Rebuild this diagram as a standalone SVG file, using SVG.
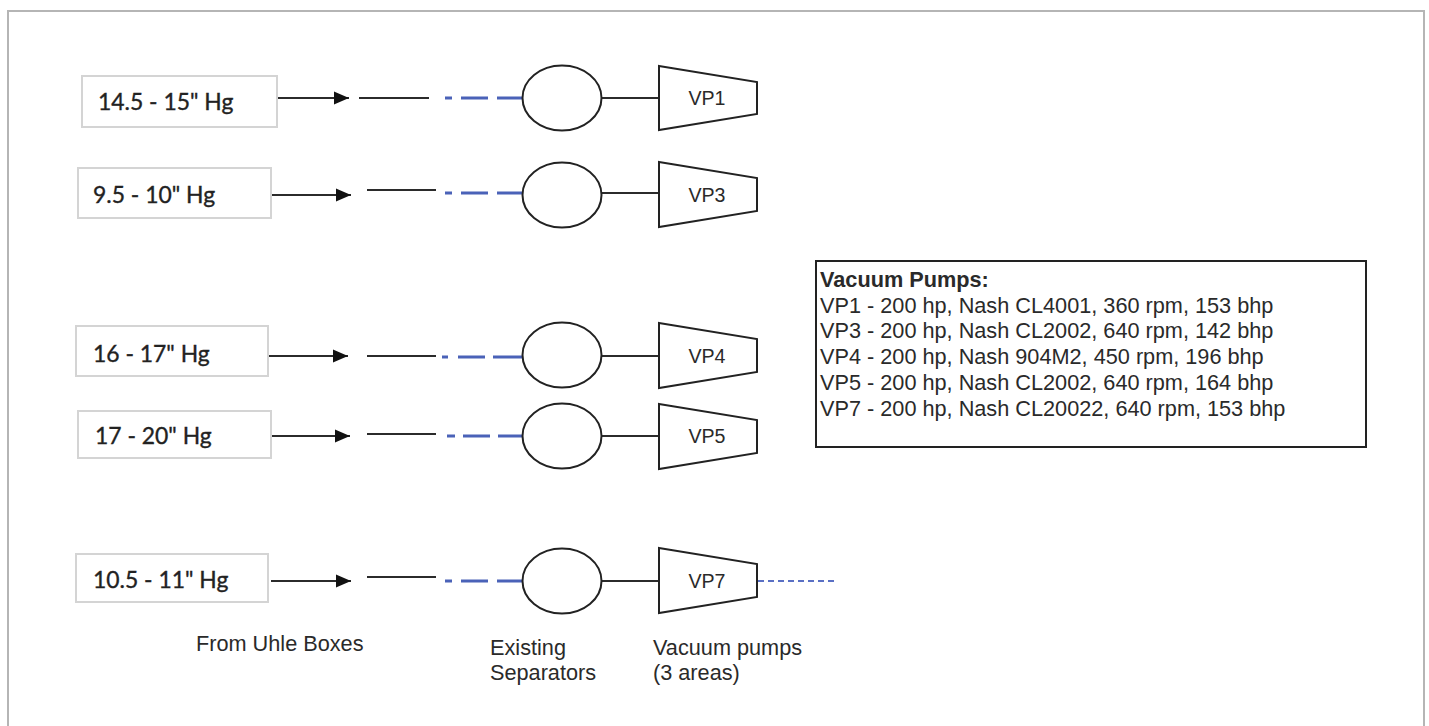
<svg xmlns="http://www.w3.org/2000/svg" width="1429" height="726" viewBox="0 0 1429 726">
<style>
.f{fill:#fff;stroke:#222;stroke-width:2}
.lb{fill:#fff;stroke:#d4d4d4;stroke-width:2}
.c{fill:none;stroke:#2b2b2b;stroke-width:2.2}
.b{fill:none;stroke:#4a62b8;stroke-width:3}
.s{font-family:"Liberation Sans",Arial,sans-serif;font-size:21.7px;fill:#2a2a2a}
.v{font-family:"Liberation Sans",Arial,sans-serif;font-size:19.6px;fill:#2a2a2a}
.h{font-family:Lato,"Open Sans",sans-serif;font-size:22.9px;font-weight:400;fill:#222;stroke:#222;stroke-width:.35}
</style>
<defs><marker id="a" markerUnits="userSpaceOnUse" markerWidth="15" markerHeight="14" refX="15" refY="7" orient="auto"><path d="M0 0.5L15 7L0 13.5Z" fill="#111"/></marker></defs>
<rect x="8" y="11" width="1416" height="722" fill="#fff" stroke="#b5b5b5" stroke-width="2"/>
<g id="connectors">
<path class="c" d="M277 98H349" marker-end="url(#a)"/><path class="c" d="M359 98H429"/><path class="b" d="M445 98H452M461 98H488M497 98H523"/><path class="c" d="M602 98H659"/>
<path class="c" d="M271 195H351" marker-end="url(#a)"/><path class="c" d="M367 190H436"/><path class="b" d="M445 193H452M461 193H488M497 193H523"/><path class="c" d="M602 193H659"/>
<path class="c" d="M268 356H348" marker-end="url(#a)"/><path class="c" d="M367 356H436"/><path class="b" d="M442 357H448M458 357H485M493 357H523"/><path class="c" d="M602 356H659"/>
<path class="c" d="M271 436H350" marker-end="url(#a)"/><path class="c" d="M367 434H436"/><path class="b" d="M447 436H455M463 436H490M498 436H523"/><path class="c" d="M602 436H659"/>
<path class="c" d="M271 581H351" marker-end="url(#a)"/><path class="c" d="M367 577H436"/><path class="b" d="M445 581H452M461 581H488M497 581H523"/><path class="c" d="M602 581H659"/>
<path d="M758 581H836" fill="none" stroke="#5a70c4" stroke-width="2" stroke-dasharray="6 4"/>
</g>
<g id="label1"><rect class="lb" x="82" y="76" width="195" height="51"/><text class="h" x="98" y="110">14.5 - 15" Hg</text></g>
<g id="label2"><rect class="lb" x="78" y="168" width="193" height="50"/><text class="h" x="93" y="203">9.5 - 10" Hg</text></g>
<g id="label3"><rect class="lb" x="76" y="326" width="192" height="50"/><text class="h" x="93" y="362">16 - 17" Hg</text></g>
<g id="label4"><rect class="lb" x="78" y="411" width="193" height="47"/><text class="h" x="95" y="444">17 - 20" Hg</text></g>
<g id="label5"><rect class="lb" x="76" y="554" width="192" height="48"/><text class="h" x="93" y="588">10.5 - 11" Hg</text></g>
<g id="sep1"><ellipse class="f" cx="562" cy="98" rx="39.5" ry="32.5"/></g>
<g id="sep3"><ellipse class="f" cx="562" cy="195" rx="39.5" ry="32.5"/></g>
<g id="sep4"><ellipse class="f" cx="562" cy="355" rx="39.5" ry="32.5"/></g>
<g id="sep5"><ellipse class="f" cx="562" cy="436" rx="39.5" ry="32.5"/></g>
<g id="sep7"><ellipse class="f" cx="562" cy="581" rx="39.5" ry="32.5"/></g>
<g id="vp1"><path class="f" d="M659 66L757 82V114L659 130Z"/><text class="v" x="707" y="105" text-anchor="middle">VP1</text></g>
<g id="vp3"><path class="f" d="M659 162L757 178V211L659 227Z"/><text class="v" x="707" y="202" text-anchor="middle">VP3</text></g>
<g id="vp4"><path class="f" d="M659 323L757 339V372L659 388Z"/><text class="v" x="707" y="363" text-anchor="middle">VP4</text></g>
<g id="vp5"><path class="f" d="M659 404L757 420V453L659 469Z"/><text class="v" x="707" y="443" text-anchor="middle">VP5</text></g>
<g id="vp7"><path class="f" d="M659 548L757 564V597L659 613Z"/><text class="v" x="707" y="588" text-anchor="middle">VP7</text></g>
<g id="legend"><rect class="f" x="816" y="261" width="550" height="186"/>
<text class="s" x="820" y="287" style="font-weight:700">Vacuum Pumps:</text>
<text class="s" x="820" y="312.500">VP1 - 200 hp, Nash CL4001, 360 rpm, 153 bhp</text>
<text class="s" x="820" y="338">VP3 - 200 hp, Nash CL2002, 640 rpm, 142 bhp</text>
<text class="s" x="820" y="363.500">VP4 - 200 hp, Nash 904M2, 450 rpm, 196 bhp</text>
<text class="s" x="820" y="389.500">VP5 - 200 hp, Nash CL2002, 640 rpm, 164 bhp</text>
<text class="s" x="820" y="415.500">VP7 - 200 hp, Nash CL20022, 640 rpm, 153 bhp</text></g>
<text class="s" x="196" y="651">From Uhle Boxes</text>
<text class="s" x="490" y="655">Existing</text><text class="s" x="490" y="680">Separators</text>
<text class="s" x="653" y="655">Vacuum pumps</text><text class="s" x="653" y="680">(3 areas)</text>
</svg>
